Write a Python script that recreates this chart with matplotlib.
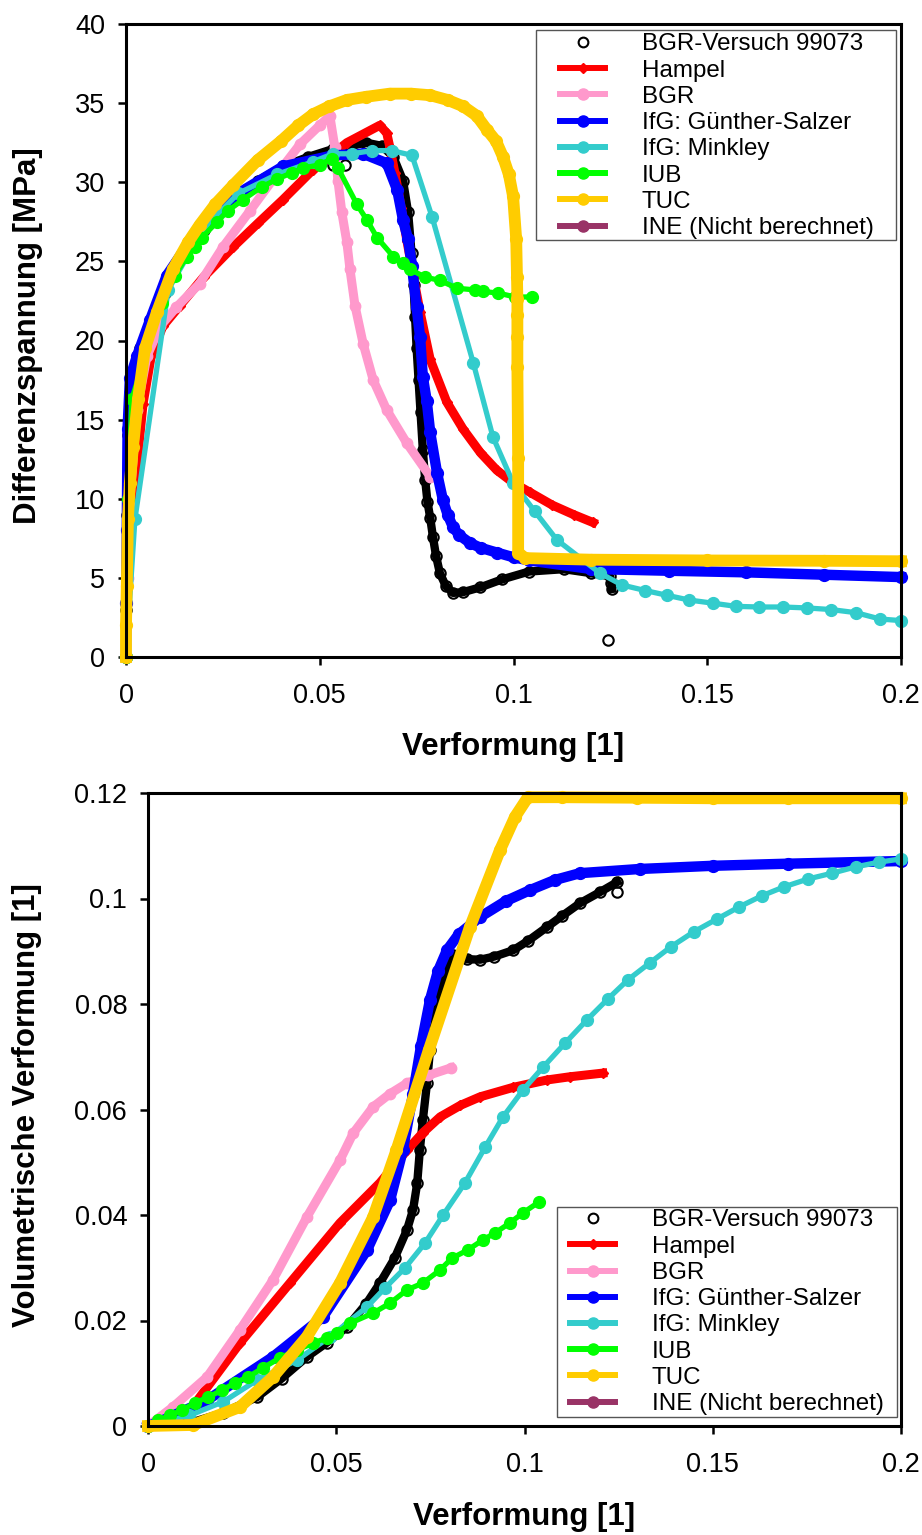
import matplotlib
matplotlib.use("Agg")
import matplotlib.pyplot as plt
from matplotlib.lines import Line2D
from matplotlib.patches import Rectangle
from matplotlib.legend_handler import HandlerLine2D

plt.rcParams['font.family'] = ['Liberation Sans', 'DejaVu Sans']

# ---------------- data: top panel (Differenzspannung vs Verformung) ----------------
exp_top_x = [0, 0.0001, 0.0003, 0.0005, 0.001, 0.002, 0.0035, 0.0062, 0.01, 0.0147, 0.02, 0.0276,
             0.034, 0.0405, 0.047, 0.0534, 0.058, 0.062, 0.066, 0.069, 0.0715, 0.0728, 0.0737,
             0.0742, 0.0746, 0.075, 0.0755, 0.076, 0.0766, 0.0772, 0.0778, 0.0785, 0.0792, 0.08,
             0.081, 0.0825, 0.0844, 0.087, 0.0914, 0.097, 0.104, 0.113, 0.12, 0.1249, 0.1252, 0.1254]
exp_top_y = [0, 3, 9, 14, 16.7, 18.2, 19.5, 20.8, 23.0, 25.5, 27.0, 28.9,
             30.1, 31.0, 31.6, 32.1, 32.3, 32.5, 32.3, 31.6, 30.1, 28.1, 25.5,
             23.5, 21.5, 19.5, 17.5, 15.5, 13.1, 11.2, 9.8, 8.8, 7.6, 6.4,
             5.3, 4.5, 4.05, 4.1, 4.4, 4.9, 5.4, 5.55, 5.3, 5.1, 4.7, 4.3]
exp_top_out_x = [0.0534, 0.0565, 0.1245]
exp_top_out_y = [31.1, 31.1, 1.1]

ham_top_x = [0, 0.0003, 0.001, 0.0028, 0.0044, 0.0065, 0.0095, 0.0139, 0.02, 0.0276, 0.034, 0.0405,
             0.0483, 0.057, 0.0655, 0.0673, 0.0681, 0.0694, 0.071, 0.0725, 0.0742, 0.0759, 0.0785,
             0.0828, 0.087, 0.0915, 0.0957, 0.1, 0.1043, 0.11, 0.1155, 0.1205]
ham_top_y = [0, 5.9, 9, 12.1, 16.0, 19.0, 20.9, 22.2, 24.0, 25.9, 27.4, 28.9,
             30.8, 32.5, 33.6, 33.1, 32.2, 30.6, 28.4, 26.3, 24.0, 21.8, 18.8,
             16.1, 14.4, 12.9, 11.8, 11.0, 10.4, 9.6, 9.0, 8.5]

bgr_top_x = [0, 0.0005, 0.001, 0.0028, 0.0054, 0.0088, 0.013, 0.019, 0.025, 0.032, 0.038, 0.0449,
             0.05, 0.0526, 0.0539, 0.0547, 0.0557, 0.057, 0.0578, 0.0591, 0.0612, 0.0638, 0.0673,
             0.0725, 0.0785]
bgr_top_y = [0, 5, 9.8, 15.6, 19.0, 20.9, 22.1, 23.6, 25.9, 28.2, 30.2, 32.4,
             33.6, 34.2, 32.2, 30.1, 28.1, 26.2, 24.5, 22.2, 19.8, 17.5, 15.6,
             13.5, 11.4]

gs_top_x = [0, 0.0001, 0.0002, 0.0004, 0.001, 0.0028, 0.0062, 0.0105, 0.0174, 0.0276, 0.0405, 0.0534,
            0.0612, 0.0673, 0.07, 0.0715, 0.0728, 0.0738, 0.075, 0.0759, 0.0766, 0.0776, 0.0785,
            0.0803, 0.0818, 0.083, 0.0844, 0.086, 0.0888, 0.0915, 0.0957, 0.1, 0.104, 0.12, 0.14,
            0.16, 0.18, 0.2]
gs_top_y = [0, 3.4, 8, 14.4, 17.6, 19.0, 21.3, 24.1, 26.6, 29.1, 31.0, 31.7,
            31.8, 31.2, 29.5, 27.6, 26.4, 24.7, 22.1, 20.2, 17.7, 16.2, 14.2,
            11.6, 9.9, 9.0, 8.2, 7.7, 7.2, 6.9, 6.6, 6.3, 6.1, 5.56, 5.45,
            5.35, 5.2, 5.05]

mink_top_x = [0, 0.0023, 0.0109, 0.02, 0.029, 0.039, 0.0483, 0.0534, 0.0583, 0.0635, 0.0686, 0.0738,
              0.079, 0.0896, 0.0947, 0.0999, 0.1055, 0.1112, 0.1223, 0.128, 0.134, 0.1396, 0.1453,
              0.1515, 0.1574, 0.1634, 0.1695, 0.1757, 0.1819, 0.1884, 0.1946, 0.2]
mink_top_y = [0, 8.7, 23.2, 27.1, 29.3, 30.5, 31.3, 31.8, 31.8, 32.0, 32.0, 31.7,
              27.8, 18.6, 13.9, 11.0, 9.2, 7.4, 5.3, 4.55, 4.2, 3.9, 3.6,
              3.4, 3.2, 3.16, 3.16, 3.1, 3.0, 2.8, 2.4, 2.3]

iub_top_x = [0, 0.0005, 0.0015, 0.0093, 0.0126, 0.0157, 0.0178, 0.0196, 0.0235, 0.0263, 0.0302, 0.035,
             0.039, 0.0428, 0.0457, 0.05, 0.0532, 0.0547, 0.0596, 0.0622, 0.0648, 0.069, 0.0715,
             0.0733, 0.0772, 0.081, 0.0854, 0.09, 0.092, 0.096, 0.1004, 0.1048]
iub_top_y = [0, 10, 16.3, 22.4, 24.1, 25.3, 25.9, 26.5, 27.5, 28.2, 28.9, 29.7,
             30.2, 30.6, 30.9, 31.1, 31.5, 30.9, 28.6, 27.6, 26.5, 25.3, 24.9,
             24.5, 24.0, 23.8, 23.3, 23.2, 23.1, 23.0, 22.75, 22.75]

tuc_top_x = [0, 0, 0.0002, 0.0005, 0.001, 0.0018, 0.0031, 0.0049, 0.008, 0.0121, 0.016, 0.019, 0.023,
             0.0276, 0.034, 0.04, 0.0445, 0.0483, 0.0525, 0.057, 0.062, 0.0681, 0.0735, 0.0785,
             0.083, 0.087, 0.0905, 0.0932, 0.0955, 0.0973, 0.0988, 0.0999, 0.1007, 0.1009,
             0.101, 0.101, 0.101, 0.101, 0.1012, 0.1012, 0.103, 0.12, 0.15, 0.18, 0.2]
tuc_top_y = [0, 2, 4.5, 8.7, 11, 13.3, 16.3, 19.5, 21.8, 24.5, 26.2, 27.3, 28.6,
             29.8, 31.4, 32.6, 33.6, 34.3, 34.8, 35.2, 35.4, 35.6, 35.6, 35.5,
             35.2, 34.8, 34.2, 33.3, 32.6, 31.6, 30.5, 29.1, 26.4, 24.0,
             22.6, 21.6, 20.2, 18.3, 12.6, 6.6, 6.25, 6.15, 6.1, 6.08, 6.05]

# ---------------- data: bottom panel (Volumetrische Verformung vs Verformung) ----------------
exp_bot_x = [0, 0.0112, 0.02, 0.029, 0.0355, 0.0422, 0.0475, 0.0529, 0.058, 0.0616, 0.0655, 0.0688,
             0.0704, 0.0715, 0.0722, 0.073, 0.0741, 0.0749, 0.0765, 0.078, 0.0794, 0.081, 0.0847,
             0.0882, 0.092, 0.097, 0.101, 0.106, 0.11, 0.1147, 0.12, 0.1246]
exp_bot_y = [0, 0.0006, 0.0025, 0.0055, 0.009, 0.0131, 0.0158, 0.0188, 0.0232, 0.0271, 0.0318, 0.0372,
             0.041, 0.046, 0.0523, 0.058, 0.065, 0.0713, 0.078, 0.084, 0.087, 0.0893, 0.0885,
             0.0884, 0.089, 0.0902, 0.092, 0.0946, 0.0967, 0.0991, 0.1012, 0.1031]
exp_bot_out_x = [0.1246]
exp_bot_out_y = [0.1012]

ham_bot_x = [0, 0.003, 0.0112, 0.0244, 0.0377, 0.051, 0.0616, 0.0688, 0.073, 0.0776, 0.083, 0.0882,
             0.097, 0.106, 0.112, 0.1208]
ham_bot_y = [0, 0.001, 0.003, 0.0157, 0.0271, 0.0385, 0.0461, 0.0523, 0.0556, 0.0586, 0.0608, 0.0624,
             0.0642, 0.0656, 0.0662, 0.0669]

bgr_bot_x = [0, 0.0066, 0.0157, 0.0244, 0.0332, 0.0422, 0.051, 0.0545, 0.0598, 0.0643, 0.0688, 0.0745,
             0.0805]
bgr_bot_y = [0, 0.0036, 0.0093, 0.0182, 0.0277, 0.0396, 0.0504, 0.0555, 0.0605, 0.0630, 0.0650, 0.0665,
             0.0679]

gs_bot_x = [0, 0.0024, 0.0157, 0.0332, 0.0465, 0.0582, 0.0643, 0.0677, 0.0704, 0.0725, 0.0749, 0.077,
            0.0794, 0.0825, 0.0882, 0.095, 0.1015, 0.108, 0.1147, 0.1307, 0.15, 0.17, 0.2]
gs_bot_y = [0, 0.0006, 0.0049, 0.0131, 0.0207, 0.0334, 0.0428, 0.0523, 0.063, 0.072, 0.0808, 0.0862,
            0.0902, 0.0932, 0.0965, 0.0995, 0.1016, 0.1035, 0.1048, 0.1056, 0.1062, 0.1066, 0.1071]

mink_bot_x = [0, 0.011, 0.02, 0.029, 0.0396, 0.0483, 0.0582, 0.063, 0.0683, 0.0736, 0.0784, 0.0842,
              0.0895, 0.0943, 0.0996, 0.1049, 0.1108, 0.1166, 0.1222, 0.1275, 0.1333, 0.139, 0.145,
              0.1511, 0.157, 0.163, 0.1689, 0.1753, 0.1817, 0.188, 0.1942, 0.2]
mink_bot_y = [0, 0.002, 0.0046, 0.0087, 0.0125, 0.0169, 0.0226, 0.0262, 0.03, 0.0347, 0.04, 0.0461,
              0.0528, 0.0586, 0.0637, 0.068, 0.0726, 0.077, 0.081, 0.0846, 0.0878, 0.0909, 0.0937,
              0.0961, 0.0984, 0.1005, 0.1022, 0.1037, 0.1048, 0.106, 0.1069, 0.1075]

iub_bot_x = [0, 0.0027, 0.0058, 0.009, 0.0125, 0.016, 0.0197, 0.0231, 0.0266, 0.0305, 0.035, 0.0396,
             0.0438, 0.0475, 0.0502, 0.0537, 0.0598, 0.0643, 0.0688, 0.073, 0.0776, 0.0807, 0.085,
             0.089, 0.0922, 0.0961, 0.0996, 0.1039]
iub_bot_y = [0, 0.0011, 0.002, 0.003, 0.0044, 0.0055, 0.0068, 0.0082, 0.0093, 0.011, 0.0129, 0.0144,
             0.0157, 0.0167, 0.0176, 0.0195, 0.0214, 0.0233, 0.0258, 0.0271, 0.0296, 0.0318, 0.0334,
             0.0353, 0.0366, 0.0385, 0.0404, 0.0425]

tuc_bot_x = [0, 0.012, 0.0244, 0.0332, 0.0422, 0.051, 0.0598, 0.066, 0.0746, 0.0855, 0.0935, 0.0975,
             0.1009, 0.11, 0.13, 0.15, 0.17, 0.2]
tuc_bot_y = [0, 0.0002, 0.0036, 0.0093, 0.0169, 0.0271, 0.0396, 0.0523, 0.0713, 0.0946, 0.1092, 0.1155,
             0.1192, 0.1192, 0.1191, 0.119, 0.119, 0.119]

# ---------------- labels ----------------
legend_labels = ['BGR-Versuch 99073', 'Hampel', 'BGR', 'IfG: Günther-Salzer', 'IfG: Minkley',
                 'IUB', 'TUC', 'INE (Nicht berechnet)']
x_ticks = [0, 0.05, 0.1, 0.15, 0.2]
x_ticklabels = ['0', '0.05', '0.1', '0.15', '0.2']
top_yticks = [0, 5, 10, 15, 20, 25, 30, 35, 40]
top_yticklabels = ['0', '5', '10', '15', '20', '25', '30', '35', '40']
bot_yticks = [0, 0.02, 0.04, 0.06, 0.08, 0.1, 0.12]
bot_yticklabels = ['0', '0.02', '0.04', '0.06', '0.08', '0.1', '0.12']

# ---------------- styles ----------------
C_RED = '#FF0000'
C_PINK = '#FF99CC'
C_BLUE = '#0000FF'
C_CYAN = '#33CCCC'
C_GREEN = '#00FF00'
C_GOLD = '#FFCC00'
C_PURPLE = '#993366'

W, H = 922, 1535
fig = plt.figure(figsize=(W / 100, H / 100), dpi=100)
ax1 = fig.add_axes([126 / W, 1 - 657 / H, 775 / W, 633 / H])
ax2 = fig.add_axes([148 / W, 1 - 1426 / H, 753 / W, 633 / H])


def draw(ax, d):
    (ex, ey, ox, oy, hx, hy, bx, by, gx, gy, mx, my, ix, iy, tx, ty) = d
    ax.plot(ex, ey, color='black', lw=6, marker='o', ms=7.5, mfc='none', mec='black',
            mew=1.5, clip_on=False, zorder=2)
    ax.plot(ox, oy, ls='none', marker='o', ms=7.5, mfc='none', mec='black', mew=1.5,
            clip_on=False, zorder=2)
    ax.plot(hx, hy, color=C_RED, lw=6.5, marker='D', ms=5, mec=C_RED, clip_on=False, zorder=3)
    ax.plot(bx, by, color=C_PINK, lw=6.5, marker='o', ms=7.5, mec=C_PINK, clip_on=False, zorder=4)
    ax.plot(gx, gy, color=C_BLUE, lw=7.5, marker='o', ms=8.5, mec=C_BLUE, clip_on=False, zorder=5)
    ax.plot(mx, my, color=C_CYAN, lw=3.8, marker='o', ms=8.5, mec=C_CYAN, clip_on=False, zorder=6)
    ax.plot(ix, iy, color=C_GREEN, lw=3.8, marker='o', ms=8.5, mec=C_GREEN, clip_on=False, zorder=7)
    ax.plot(tx, ty, color=C_GOLD, lw=8.5, marker='o', ms=8.5, mec=C_GOLD, clip_on=False, zorder=8)


draw(ax1, (exp_top_x, exp_top_y, exp_top_out_x, exp_top_out_y, ham_top_x, ham_top_y,
           bgr_top_x, bgr_top_y, gs_top_x, gs_top_y, mink_top_x, mink_top_y,
           iub_top_x, iub_top_y, tuc_top_x, tuc_top_y))
draw(ax2, (exp_bot_x, exp_bot_y, exp_bot_out_x, exp_bot_out_y, ham_bot_x, ham_bot_y,
           bgr_bot_x, bgr_bot_y, gs_bot_x, gs_bot_y, mink_bot_x, mink_bot_y,
           iub_bot_x, iub_bot_y, tuc_bot_x, tuc_bot_y))

ax1.set_xlim(0, 0.2)
ax1.set_ylim(0, 40)
ax2.set_xlim(0, 0.2)
ax2.set_ylim(0, 0.12)

ax1.set_xticks(x_ticks)
ax1.set_xticklabels(x_ticklabels)
ax1.set_yticks(top_yticks)
ax1.set_yticklabels(top_yticklabels)
ax2.set_xticks(x_ticks)
ax2.set_xticklabels(x_ticklabels)
ax2.set_yticks(bot_yticks)
ax2.set_yticklabels(bot_yticklabels)

for ax in (ax1, ax2):
    for s in ax.spines.values():
        s.set_linewidth(2.2)
        s.set_zorder(10)
    ax.tick_params(axis='both', which='major', direction='out', length=6, width=1.8,
                   labelsize=19.5, top=False, right=False)
    ax.tick_params(axis='x', pad=13)
    ax.tick_params(axis='y', pad=9)

lab_kw = dict(fontsize=22.5, fontweight='bold')
ax1.set_xlabel('Verformung [1]', **lab_kw)
ax1.set_ylabel('Differenzspannung [MPa]', **lab_kw)
ax2.set_xlabel('Verformung [1]', **lab_kw)
ax2.set_ylabel('Volumetrische Verformung [1]', **lab_kw)
for ax in (ax1, ax2):
    ax.xaxis.label.set_va('center')
    ax.yaxis.label.set_va('center')
ax1.xaxis.set_label_coords(0.5, -(747 - 657) / 633)
ax2.xaxis.set_label_coords(0.5, -(1517 - 1426) / 633)
ax1.yaxis.set_label_coords((28 - 126) / 775, 0.508)
ax2.yaxis.set_label_coords((27 - 148) / 753, 0.507)


# ---------------- legends ----------------
class PadHandler(HandlerLine2D):
    def __init__(self, lpad, **kw):
        super().__init__(**kw)
        self.lpad = lpad

    def create_artists(self, legend, orig_handle, xdescent, ydescent, width, height,
                       fontsize, trans):
        return super().create_artists(legend, orig_handle, xdescent - self.lpad, ydescent,
                                      width - self.lpad, height, fontsize, trans)


def handles():
    hs = [Line2D([], [], ls='none', marker='o', ms=7, mfc='none', mec='black', mew=1.5)]
    for c, m, ms in [(C_RED, 'D', 5), (C_PINK, 'o', 8), (C_BLUE, 'o', 8), (C_CYAN, 'o', 8),
                     (C_GREEN, 'o', 8), (C_GOLD, 'o', 8), (C_PURPLE, 'o', 8)]:
        hs.append(Line2D([], [], color=c, lw=4.3, marker=m, ms=ms, mec=c))
    return hs


lpad_pt = 20 * 72 / 100
leg_fs = 17.4


def add_legend(left_px, first_row_center_px, box):
    hs = handles()
    hmap = {h: PadHandler(lpad_pt) for h in hs}
    leg = fig.legend(hs, legend_labels, loc='upper left',
                     bbox_to_anchor=(left_px / W, 1 - (first_row_center_px - 11.5) / H),
                     bbox_transform=fig.transFigure, frameon=False, fontsize=leg_fs,
                     borderpad=0, borderaxespad=0, handlelength=2.69, handletextpad=1.53,
                     labelspacing=0.175, numpoints=1, handler_map=hmap)
    x0, y0, x1, y1 = box
    rect = Rectangle((x0 / W, 1 - y1 / H), (x1 - x0) / W, (y1 - y0) / H,
                     transform=fig.transFigure, facecolor='white',
                     edgecolor='#555555', lw=1.0, zorder=15)
    fig.add_artist(rect)
    leg.set_zorder(20)
    return leg


add_legend(540, 45, (536, 30, 896, 240))
add_legend(550, 1221, (557, 1207, 897, 1417))

fig.savefig('out.png', dpi=100)
